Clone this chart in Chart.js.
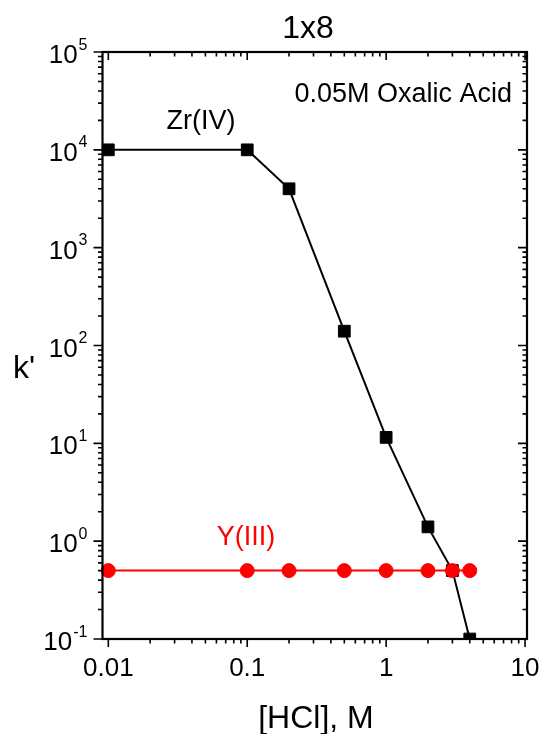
<!DOCTYPE html>
<html>
<head>
<meta charset="utf-8">
<script src="https://cdn.jsdelivr.net/npm/chart.js@4"></script>
<style>
  body { margin: 0; background: #fff; }
  canvas { display: block; }
</style>
</head>
<body>
<canvas id="chartK" width="543" height="734"></canvas>
<script>
// [HCl] concentrations (M) and k' values
const hcl = [0.01, 0.1, 0.2, 0.5, 1, 2, 3, 4];
const zrK = [10000, 10000, 4000, 140, 11.5, 1.4, 0.5, 0.1];
const yK = [0.5, 0.5, 0.5, 0.5, 0.5, 0.5, 0.5, 0.5];

const xTickValues = [0.01, 0.1, 1, 10];
const xTickLabels = ['0.01', '0.1', '1', '10'];
const yTickExponents = [-1, 0, 1, 2, 3, 4, 5];

const FONT = '"Liberation Sans", Arial, Helvetica, sans-serif';

document.addEventListener("DOMContentLoaded", function () {
    const canvas = document.getElementById("chartK");
    const ctx = canvas.getContext("2d");

    // frame, ticks, tick labels and annotations in the Origin style
    const framePlugin = {
        id: 'frame',
        afterDatasetsDraw(chart) {
            const c = chart.ctx;
            const a = chart.chartArea;
            const x = chart.scales.x;
            const y = chart.scales.y;

            c.save();
            c.strokeStyle = '#000';
            c.lineWidth = 1.6;
            c.beginPath();
            for (let n = -3; n <= 1; n++) {
                for (let m = 1; m <= 9; m++) {
                    const v = m * Math.pow(10, n);
                    if (v < x.min || v > x.max) continue;
                    const px = x.getPixelForValue(v);
                    const len = m === 1 ? 8 : 4.5;
                    c.moveTo(px, a.bottom); c.lineTo(px, a.bottom + len);
                    c.moveTo(px, a.top); c.lineTo(px, a.top + len);
                }
            }
            for (let n = -1; n <= 5; n++) {
                for (let m = 1; m <= 9; m++) {
                    const v = m * Math.pow(10, n);
                    if (v < y.min || v > y.max) continue;
                    const py = y.getPixelForValue(v);
                    const len = m === 1 ? 9 : 4.5;
                    c.moveTo(a.left, py); c.lineTo(a.left - len, py);
                    c.moveTo(a.right, py); c.lineTo(a.right - len, py);
                }
            }
            c.stroke();

            c.lineWidth = 2.2;
            c.strokeRect(a.left, a.top, a.right - a.left, a.bottom - a.top);

            c.fillStyle = '#000';
            // x tick labels
            c.font = '26px ' + FONT;
            c.textAlign = 'center';
            c.textBaseline = 'alphabetic';
            xTickValues.forEach(function (v, i) {
                c.fillText(xTickLabels[i], x.getPixelForValue(v), a.bottom + 37);
            });

            // y tick labels as 10 with superscript exponent
            yTickExponents.forEach(function (e) {
                const py = y.getPixelForValue(Math.pow(10, e));
                const exp = String(e);
                c.font = '16px ' + FONT;
                c.textAlign = 'right';
                const expRight = a.left - 15;
                const w = c.measureText(exp).width;
                c.fillText(exp, expRight, py - 2.5);
                c.font = '26px ' + FONT;
                c.fillText('10', expRight - w - 1, py + 11);
            });

            // titles
            c.textAlign = 'center';
            c.font = '32px ' + FONT;
            c.fillText('1x8', 308, 38);
            c.fillText('[HCl], M', 316, 728);
            c.textAlign = 'left';
            c.fillText("k'", 13, 378);

            // annotations
            c.font = '27px ' + FONT;
            c.textAlign = 'right';
            c.fillText('0.05M Oxalic Acid', 512, 102);
            c.textAlign = 'center';
            c.fillText('Zr(IV)', 201, 129);
            c.fillStyle = '#ff0000';
            c.fillText('Y(III)', 246, 545);
            c.restore();
        }
    };

    new Chart(ctx, {
        type: 'scatter',
        data: {
            datasets: [{
                label: 'Zr(IV)',
                data: hcl.map(function (v, i) { return { x: v, y: zrK[i] }; }),
                showLine: true,
                borderColor: '#000',
                backgroundColor: '#000',
                borderWidth: 2,
                pointStyle: 'rect',
                pointRadius: 8.3,
                pointBorderWidth: 1,
                order: 2,
                clip: { left: 10, right: 10, top: 0, bottom: 0 }
            }, {
                label: 'Y(III)',
                data: hcl.map(function (v, i) { return { x: v, y: yK[i] }; }),
                showLine: true,
                borderColor: '#ff0000',
                backgroundColor: '#ff0000',
                borderWidth: 2,
                pointStyle: 'circle',
                pointRadius: 7,
                pointBorderWidth: 1,
                order: 1,
                clip: { left: 10, right: 10, top: 0, bottom: 0 }
            }]
        },
        options: {
            responsive: false,
            animation: false,
            layout: {
                padding: { left: 102.5, top: 52, right: 16, bottom: 95 }
            },
            plugins: {
                legend: { display: false },
                title: { display: false },
                tooltip: { enabled: false }
            },
            scales: {
                x: { type: 'logarithmic', min: 0.00908, max: 10.33, display: false },
                y: { type: 'logarithmic', min: 0.1, max: 100000, display: false }
            }
        },
        plugins: [framePlugin]
    });
});
</script>
</body>
</html>
